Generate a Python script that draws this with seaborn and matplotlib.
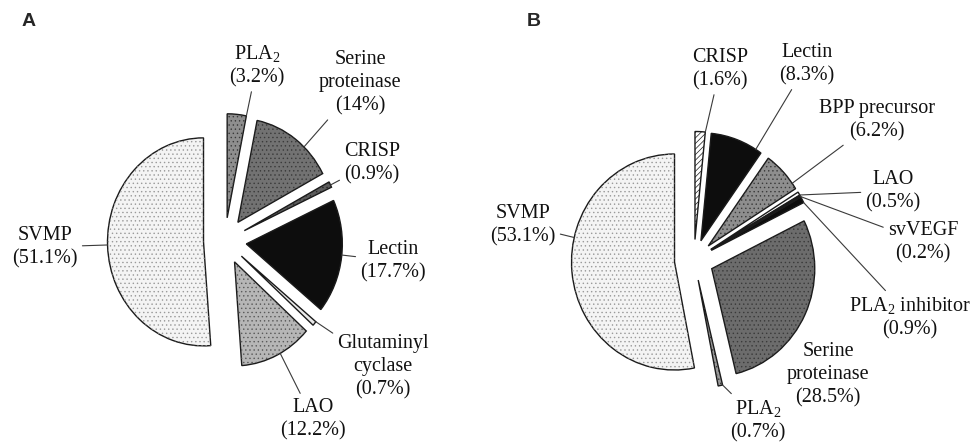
import numpy as np
import matplotlib
matplotlib.use("Agg")
import matplotlib.pyplot as plt
from matplotlib.patches import Wedge
import seaborn as sns

# === Data: panel A ===
names_a = ["PLA$_2$", "Serine\nproteinase", "CRISP", "Lectin",
           "Glutaminyl\ncyclase", "LAO", "SVMP"]
values_a = [3.2, 14, 0.9, 17.7, 0.7, 12.2, 51.1]

# === Data: panel B ===
names_b = ["CRISP", "Lectin", "BPP precursor", "LAO", "svVEGF",
           "PLA$_2$ inhibitor", "Serine\nproteinase", "PLA$_2$", "SVMP"]
values_b = [1.6, 8.3, 6.2, 0.5, 0.2, 0.9, 28.5, 0.7, 53.1]

# === Styles ===
fills_a = ["#8e8e8e", "#727272", "#5c5c5c", "#0d0d0d", "#eaeaea", "#b6b6b6", "#f4f4f4"]
hatches_a = ["....", "....", "....", "", "", "....", "...."]
hatch_cols_a = ["#3a3a3a", "#3a3a3a", "#2a2a2a", "none", "none", "#5a5a5a", "#9a9a9a"]
fills_b = ["#ffffff", "#0d0d0d", "#8e8e8e", "#ffffff", "#8e8e8e", "#0d0d0d",
           "#6c6c6c", "#9a9a9a", "#f4f4f4"]
hatches_b = ["//////", "", "....", "", "", "", "....", "....", "...."]
hatch_cols_b = ["#1a1a1a", "none", "#3a3a3a", "none", "none", "none",
                "#3a3a3a", "#3a3a3a", "#9a9a9a"]

# label offsets from the pie centre in pixels (x right, y up)
pos_a = [(32, 176), (135, 158), (147, 78), (168, -20),
         (158, -126), (88, -178), (-180, -6)]
pos_b = [(26, 191), (113, 196), (183, 140), (199, 69), (229, 18),
         (216, -57), (134, -115), (64, -160), (-171, 35)]
lines_b = [True, True, True, True, True, True, False, True, True]

sns.set_theme(style="white")
plt.rcParams["font.family"] = ["Liberation Serif", "DejaVu Serif"]
plt.rcParams["mathtext.fontset"] = "custom"
plt.rcParams["mathtext.rm"] = "Liberation Serif"
plt.rcParams["mathtext.it"] = "Liberation Serif:italic"
plt.rcParams["hatch.linewidth"] = 0.5


def draw_pie(ax, names, values, fills, hatches, hatch_cols, pos, lines,
             explode, cx_px, cy_px, sx, sy):
    # sx, sy: pixels per data unit (the original figure is slightly squashed)
    wedges, _ = ax.pie(values, startangle=90, counterclock=False, radius=1.0,
                       explode=[explode] * len(values), colors=fills,
                       wedgeprops=dict(edgecolor="#1a1a1a", linewidth=1.0))
    for w, h, hc in zip(wedges, hatches, hatch_cols):
        if h:
            ax.add_patch(Wedge(w.center, w.r, w.theta1, w.theta2, fill=False,
                               hatch=h, edgecolor=hc, linewidth=0, zorder=w.get_zorder()))
    for w, name, v, (dx, dy), ln in zip(wedges, names, values, pos, lines):
        tx, ty = dx / sx, dy / sy
        cx, cy = w.center
        # leader line hits the arc in the direction of the label
        a = np.degrees(np.arctan2(ty - cy, tx - cx))
        a = (a - w.theta1) % 360 + w.theta1
        if a > w.theta2:
            a = w.theta2 if (a - w.theta2) < (w.theta1 + 360 - a) else w.theta1
        a = np.deg2rad(a)
        xy = (cx + w.r * np.cos(a), cy + w.r * np.sin(a))
        arrow = dict(arrowstyle="-", color="#3a3a3a", lw=0.8, shrinkA=1, shrinkB=0) if ln else None
        ax.annotate(f"{name}\n({v:g}%)", xy=xy, xytext=(tx, ty), ha="center", va="center",
                    fontsize=14.5, linespacing=1.28, color="#111111", arrowprops=arrow)
    ax.set_aspect("auto")
    # axes are 486 x 447 px
    ax.set_xlim(-cx_px / sx, (486 - cx_px) / sx)
    ax.set_ylim(-(447 - cy_px) / sy, cy_px / sy)
    ax.axis("off")


fig = plt.figure(figsize=(9.72, 4.47), dpi=100)
ax_a = fig.add_axes([0, 0, 0.5, 1])
ax_b = fig.add_axes([0.5, 0, 0.5, 1])

draw_pie(ax_a, names_a, values_a, fills_a, hatches_a, hatch_cols_a, pos_a,
         [True] * len(values_a), 0.224, 225, 241, 96, 104)
draw_pie(ax_b, names_b, values_b, fills_b, hatches_b, hatch_cols_b, pos_b, lines_b,
         0.19, 208, 260, 103, 108)

fig.text(22 / 972, 1 - 22 / 447, "A", family="Liberation Sans", weight="bold",
         fontsize=14, ha="left", va="center")
fig.text(527 / 972, 1 - 22 / 447, "B", family="Liberation Sans", weight="bold",
         fontsize=14, ha="left", va="center")

fig.savefig("out.png", dpi=100, facecolor="white")
